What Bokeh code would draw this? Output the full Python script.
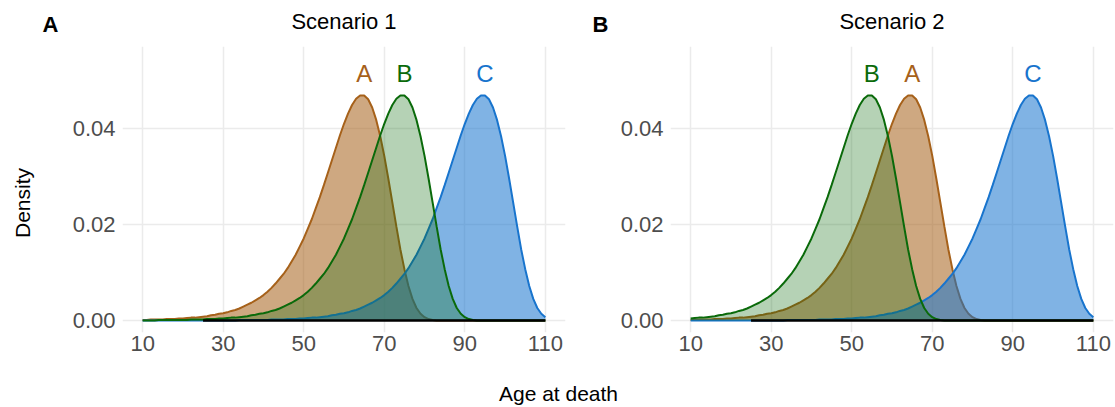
from bokeh.plotting import figure
from bokeh.layouts import row, column
from bokeh.models import Range1d, FixedTicker
from bokeh.embed import file_html
from bokeh.resources import INLINE
from bokeh.core.properties import value

# ---------------------------------------------------------------------------
# Data: age-at-death densities, one value per year of age (10 .. 110)
# ---------------------------------------------------------------------------
ages = list(range(10, 111))

density_A = [
    0.0001, 0.0001, 0.0002, 0.0002, 0.0002, 0.0002, 0.0003, 0.0003, 0.0003, 0.0004,
    0.0004, 0.0005, 0.0006, 0.0006, 0.0007, 0.0008, 0.0009, 0.0011, 0.0012, 0.0014,
    0.0015, 0.0017, 0.0020, 0.0022, 0.0025, 0.0029, 0.0033, 0.0037, 0.0042, 0.0047,
    0.0053, 0.0060, 0.0068, 0.0077, 0.0087, 0.0097, 0.0109, 0.0123, 0.0137, 0.0154,
    0.0171, 0.0191, 0.0211, 0.0234, 0.0257, 0.0282, 0.0308, 0.0334, 0.0360, 0.0386,
    0.0410, 0.0431, 0.0449, 0.0462, 0.0469, 0.0469, 0.0461, 0.0444, 0.0418, 0.0384,
    0.0343, 0.0296, 0.0246, 0.0196, 0.0148, 0.0107, 0.0072, 0.0045, 0.0026, 0.0014,
    0.0007, 0.0003, 0.0001, 0.0, 0.0, 0.0, 0.0, 0.0, 0.0, 0.0,
    0.0, 0.0, 0.0, 0.0, 0.0, 0.0, 0.0, 0.0, 0.0, 0.0,
    0.0, 0.0, 0.0, 0.0, 0.0, 0.0, 0.0, 0.0, 0.0, 0.0,
    0.0,
]

density_B_scenario1 = [
    0.0, 0.0, 0.0, 0.0, 0.0001, 0.0001, 0.0001, 0.0001, 0.0001, 0.0001,
    0.0001, 0.0001, 0.0002, 0.0002, 0.0002, 0.0002, 0.0003, 0.0003, 0.0003, 0.0004,
    0.0004, 0.0005, 0.0006, 0.0006, 0.0007, 0.0008, 0.0009, 0.0011, 0.0012, 0.0014,
    0.0015, 0.0017, 0.0020, 0.0022, 0.0025, 0.0029, 0.0033, 0.0037, 0.0042, 0.0047,
    0.0053, 0.0060, 0.0068, 0.0077, 0.0087, 0.0097, 0.0109, 0.0123, 0.0137, 0.0154,
    0.0171, 0.0191, 0.0211, 0.0234, 0.0257, 0.0282, 0.0308, 0.0334, 0.0360, 0.0386,
    0.0410, 0.0431, 0.0449, 0.0462, 0.0469, 0.0469, 0.0461, 0.0444, 0.0418, 0.0384,
    0.0343, 0.0296, 0.0246, 0.0196, 0.0148, 0.0107, 0.0072, 0.0045, 0.0026, 0.0014,
    0.0007, 0.0003, 0.0001, 0.0, 0.0, 0.0, 0.0, 0.0, 0.0, 0.0,
    0.0, 0.0, 0.0, 0.0, 0.0, 0.0, 0.0, 0.0, 0.0, 0.0,
    0.0,
]

density_C = [
    0.0, 0.0, 0.0, 0.0, 0.0, 0.0, 0.0, 0.0, 0.0, 0.0,
    0.0, 0.0, 0.0, 0.0, 0.0, 0.0, 0.0, 0.0, 0.0, 0.0,
    0.0, 0.0, 0.0, 0.0, 0.0001, 0.0001, 0.0001, 0.0001, 0.0001, 0.0001,
    0.0001, 0.0001, 0.0002, 0.0002, 0.0002, 0.0002, 0.0003, 0.0003, 0.0003, 0.0004,
    0.0004, 0.0005, 0.0006, 0.0006, 0.0007, 0.0008, 0.0009, 0.0011, 0.0012, 0.0014,
    0.0015, 0.0017, 0.0020, 0.0022, 0.0025, 0.0029, 0.0033, 0.0037, 0.0042, 0.0047,
    0.0053, 0.0060, 0.0068, 0.0077, 0.0087, 0.0097, 0.0109, 0.0123, 0.0137, 0.0154,
    0.0171, 0.0191, 0.0211, 0.0234, 0.0257, 0.0282, 0.0308, 0.0334, 0.0360, 0.0386,
    0.0410, 0.0431, 0.0449, 0.0462, 0.0469, 0.0469, 0.0461, 0.0444, 0.0418, 0.0384,
    0.0343, 0.0296, 0.0246, 0.0196, 0.0148, 0.0107, 0.0072, 0.0045, 0.0026, 0.0014,
    0.0007,
]

density_B_scenario2 = [
    0.0004, 0.0005, 0.0006, 0.0006, 0.0007, 0.0008, 0.0009, 0.0011, 0.0012, 0.0014,
    0.0015, 0.0017, 0.0020, 0.0022, 0.0025, 0.0029, 0.0033, 0.0037, 0.0042, 0.0047,
    0.0053, 0.0060, 0.0068, 0.0077, 0.0087, 0.0097, 0.0109, 0.0123, 0.0137, 0.0154,
    0.0171, 0.0191, 0.0211, 0.0234, 0.0257, 0.0282, 0.0308, 0.0334, 0.0360, 0.0386,
    0.0410, 0.0431, 0.0449, 0.0462, 0.0469, 0.0469, 0.0461, 0.0444, 0.0418, 0.0384,
    0.0343, 0.0296, 0.0246, 0.0196, 0.0148, 0.0107, 0.0072, 0.0045, 0.0026, 0.0014,
    0.0007, 0.0003, 0.0001, 0.0, 0.0, 0.0, 0.0, 0.0, 0.0, 0.0,
    0.0, 0.0, 0.0, 0.0, 0.0, 0.0, 0.0, 0.0, 0.0, 0.0,
    0.0, 0.0, 0.0, 0.0, 0.0, 0.0, 0.0, 0.0, 0.0, 0.0,
    0.0, 0.0, 0.0, 0.0, 0.0, 0.0, 0.0, 0.0, 0.0, 0.0,
    0.0,
]

# Ages at which each group's name is written above its curve
label_age_scenario1 = {"A": 65, "B": 75, "C": 95}
label_age_scenario2 = {"A": 65, "B": 55, "C": 95}

# Black reference span along the zero line
span_start_age = 25
span_end_age = 110

x_ticks = [10, 30, 50, 70, 90, 110]
y_ticks = [0.0, 0.02, 0.04]
y_tick_labels = ["0.00", "0.02", "0.04"]

panel_titles = ["Scenario 1", "Scenario 2"]
panel_tags = ["A", "B"]
x_title = "Age at death"
y_title = "Density"

# ---------------------------------------------------------------------------
# Styling
# ---------------------------------------------------------------------------
FONT = "Liberation Sans"
line_colors = {"A": "#A6611A", "B": "#0A6A0A", "C": "#1874CD"}
fill_alphas = {"A": 0.55, "B": 0.30, "C": 0.55}
GRID = "#EBEBEB"
TICK_TEXT = "#4D4D4D"

TOTAL_W = 1115
TOP_H = 46          # strip holding panel titles and tags
BOTTOM_H = 32       # strip holding the shared x-axis title
LEFT_W = 45         # strip holding the shared y-axis title
PANEL_H = 329
BORDER_BOTTOM = 43


def strip(width, height):
    """A bare figure whose data coordinates are its own pixels (y upward)."""
    s = figure(width=width, height=height, output_backend="svg", toolbar_location=None,
               x_range=Range1d(0, width), y_range=Range1d(0, height),
               min_border_left=0, min_border_right=0, min_border_top=0, min_border_bottom=0)
    s.outline_line_color = None
    s.axis.visible = False
    s.grid.visible = False
    s.border_fill_color = "white"
    s.background_fill_color = "white"
    return s


def make_panel(width, border_left, border_right, curves, label_ages):
    p = figure(width=width, height=PANEL_H, output_backend="svg", toolbar_location=None,
               x_range=Range1d(5, 115), y_range=Range1d(-0.0025, 0.0571),
               min_border_left=border_left, min_border_right=border_right,
               min_border_top=0, min_border_bottom=BORDER_BOTTOM)
    p.outline_line_color = None
    p.background_fill_color = "white"
    p.border_fill_color = "white"

    for ax in (p.xaxis, p.yaxis):
        ax.axis_line_color = None
        ax.major_tick_line_color = None
        ax.minor_tick_line_color = None
        ax.major_tick_out = 0
        ax.major_tick_in = 0
        ax.major_label_text_font = FONT
        ax.major_label_text_font_size = "22px"
        ax.major_label_text_color = TICK_TEXT
    p.xaxis.ticker = FixedTicker(ticks=x_ticks)
    p.yaxis.ticker = FixedTicker(ticks=y_ticks)
    p.yaxis.major_label_overrides = {t: s for t, s in zip(y_ticks, y_tick_labels)}
    p.xaxis.major_label_standoff = 3
    p.yaxis.major_label_standoff = 7

    p.xgrid.grid_line_color = GRID
    p.ygrid.grid_line_color = GRID
    p.xgrid.grid_line_width = 1.5
    p.ygrid.grid_line_width = 1.5

    for name, dens in curves:
        p.varea(x=ages, y1=0, y2=dens, fill_color=line_colors[name],
                fill_alpha=fill_alphas[name])
        p.line(x=ages, y=dens, line_color=line_colors[name], line_width=2)

    p.line(x=[span_start_age, span_end_age], y=[0, 0], line_color="black", line_width=2.5)

    names = list(label_ages.keys())
    peak = max(max(d) for _, d in curves)
    p.text(x=[label_ages[n] for n in names], y=[peak + 0.0046] * len(names),
           text=names, text_color=[line_colors[n] for n in names],
           text_align="center", text_baseline="alphabetic",
           text_font=value(FONT), text_font_size="24px")
    return p


p1 = make_panel(530, 77, 10,
                [("A", density_A), ("C", density_C), ("B", density_B_scenario1)],
                label_age_scenario1)
p2 = make_panel(540, 95, 2,
                [("A", density_A), ("C", density_C), ("B", density_B_scenario2)],
                label_age_scenario2)

# Panel titles and tags
top = strip(TOTAL_W, TOP_H)
top.text(x=[343.5, 891.5], y=[25.5, 25.5], text=panel_titles, text_align="center",
         text_baseline="alphabetic", text_font=value(FONT), text_font_size="22px",
         text_color="black")
top.text(x=[42, 592], y=[22.5, 22.5], text=panel_tags, text_align="left",
         text_baseline="alphabetic", text_font=value(FONT), text_font_size="22px",
         text_font_style="bold", text_color="black")

# Shared y-axis title
left = strip(LEFT_W, PANEL_H)
left.text(x=[21.5], y=[149], text=[y_title], angle=1.5707963, text_align="center",
          text_baseline="alphabetic", text_font=value(FONT), text_font_size="21px",
          text_color="black")

# Shared x-axis title
bottom = strip(TOTAL_W, BOTTOM_H)
bottom.text(x=[558], y=[14], text=[x_title], text_align="center",
            text_baseline="alphabetic", text_font=value(FONT), text_font_size="21px",
            text_color="black")

layout = column(top, row(left, p1, p2), bottom)

open("out.html", "w").write(file_html(layout, INLINE))
